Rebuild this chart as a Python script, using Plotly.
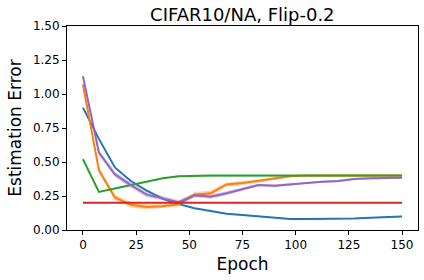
import plotly.graph_objects as go

epochs = [i * 7.5 for i in range(21)]

blue = [0.90, 0.67, 0.46, 0.36, 0.29, 0.23, 0.19, 0.16, 0.14, 0.12, 0.11,
        0.10, 0.09, 0.08, 0.08, 0.08, 0.082, 0.085, 0.09, 0.095, 0.10]
orange = [1.07, 0.44, 0.24, 0.185, 0.17, 0.175, 0.19, 0.26, 0.27, 0.335, 0.345,
          0.36, 0.38, 0.395, 0.40, 0.40, 0.40, 0.40, 0.40, 0.40, 0.40]
green = [0.52, 0.28, 0.305, 0.33, 0.36, 0.38, 0.395, 0.40, 0.40, 0.40, 0.40,
         0.40, 0.40, 0.40, 0.40, 0.40, 0.40, 0.40, 0.40, 0.40, 0.40]
purple = [1.13, 0.57, 0.41, 0.33, 0.26, 0.235, 0.205, 0.255, 0.245, 0.27, 0.30,
          0.33, 0.325, 0.335, 0.35, 0.355, 0.36, 0.375, 0.38, 0.38, 0.385]
red = [0.20] * 21

orange_std = [0.02, 0.02, 0.02, 0.02, 0.02, 0.015, 0.015, 0.02, 0.02, 0.015, 0.015,
              0.01, 0.01, 0.008, 0.006, 0.005, 0.005, 0.005, 0.005, 0.005, 0.005]
purple_std = [0.01, 0.02, 0.02, 0.02, 0.02, 0.015, 0.015, 0.015, 0.015, 0.015, 0.015,
              0.01, 0.01, 0.01, 0.008, 0.008, 0.008, 0.008, 0.008, 0.008, 0.008]
green_std = [0.005] * 21
blue_std = [0.004] * 21

series = [
    ("blue", blue, blue_std, "#1f77b4", "rgba(31,119,180,0.35)"),
    ("orange", orange, orange_std, "#ff7f0e", "rgba(255,127,14,0.35)"),
    ("green", green, green_std, "#2ca02c", "rgba(44,160,44,0.35)"),
    ("purple", purple, purple_std, "#9467bd", "rgba(148,103,189,0.35)"),
]

fig = go.Figure()
for name, vals, std, col, fillc in series:
    upper = [v + s for v, s in zip(vals, std)]
    lower = [v - s for v, s in zip(vals, std)]
    fig.add_trace(go.Scatter(x=epochs + epochs[::-1], y=upper + lower[::-1],
                             fill="toself", fillcolor=fillc, line=dict(width=0),
                             mode="lines", hoverinfo="skip", showlegend=False))
    fig.add_trace(go.Scatter(x=epochs, y=vals, mode="lines",
                             line=dict(color=col, width=2), showlegend=False))

fig.add_trace(go.Scatter(x=epochs, y=red, mode="lines",
                         line=dict(color="#d62728", width=2), showlegend=False))

font_family = "DejaVu Sans"
fig.update_layout(
    width=424, height=280,
    margin=dict(l=67, r=6, t=26, b=50),
    paper_bgcolor="white", plot_bgcolor="white",
    font=dict(family=font_family, color="black", size=12),
    title=dict(text="CIFAR10/NA, Flip-0.2", x=0.5715, xanchor="center",
               y=0.946, yanchor="middle", font=dict(size=18, color="black")),
    xaxis=dict(range=[-7.5, 157.5], tickmode="array",
               tickvals=[0, 25, 50, 75, 100, 125, 150],
               showgrid=False, zeroline=False, showline=True, linecolor="black",
               linewidth=1, mirror=True, ticks="outside", ticklen=4,
               tickcolor="black", tickfont=dict(size=12),
               title=dict(text="Epoch", font=dict(size=17), standoff=6)),
    yaxis=dict(range=[0, 1.5], tickmode="array",
               tickvals=[0, 0.25, 0.5, 0.75, 1.0, 1.25, 1.5],
               ticktext=["0.00", "0.25", "0.50", "0.75", "1.00", "1.25", "1.50"],
               showgrid=False, zeroline=False, showline=True, linecolor="black",
               linewidth=1, mirror=True, ticks="outside", ticklen=4,
               tickcolor="black", tickfont=dict(size=12),
               title=dict(text="Estimation Error", font=dict(size=17), standoff=6)),
)

fig.write_html("out.html", config={"displayModeBar": False},
               post_script="document.body.style.margin='0px';")
